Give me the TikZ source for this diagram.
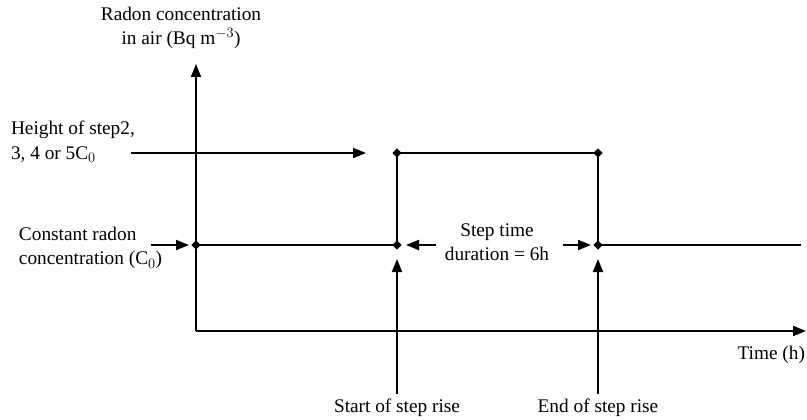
\documentclass[tikz,border=0pt]{standalone}
\usepackage{fontspec}
\setmainfont{Liberation Serif}
\usetikzlibrary{arrows.meta,shapes.geometric}
\begin{document}
\begin{tikzpicture}[x=1pt,y=-1pt,
  line width=2pt,
  tip/.style={-{Triangle[length=13pt,width=10pt]}},
  dot/.style={diamond,fill=black,inner sep=0pt,minimum size=10pt},
  lbl/.style={font=\fontsize{19.3}{24.5}\selectfont,align=center,inner sep=0pt},
  lbll/.style={lbl,align=left}]
\useasboundingbox (0,0) rectangle (807,420);

% axes
\coordinate (O) at (196,331);
\coordinate (ytip) at (196,64);
\coordinate (xtip) at (806,331);
\draw[tip] (O) -- (ytip);
\draw[tip] (O) -- (xtip);

% step profile corners
\node[dot] (a) at (196,245) {};
\node[dot] (b) at (397,245) {};
\node[dot] (c) at (397,153) {};
\node[dot] (d) at (598,153) {};
\node[dot] (e) at (598,245) {};
\coordinate (f) at (801,245);
\draw[line width=1.7pt] (a.center) -- (b.center) -- (c.center) -- (d.center) -- (e.center) -- (f);

% labels
\node[lbl] (ylab) at (181,28) {Radon concentration\\in air (Bq m$^{\mathbf{-}3}$)};
\node[lbll,anchor=west] (hlab) at (10,142) {Height of step2,\\3, 4 or 5C$_0$};
\node[lbll,anchor=west] (clab) at (18,248) {Constant radon\\concentration (C$_0$)};
\node[lbl] (slab) at (497,242) {Step time\\duration = 6h};
\node[lbl,anchor=east] (tlab) at (806,355) {Time (h)};
\node[lbl] (start) at (397,408) {Start of step rise};
\node[lbl] (endl) at (598,408) {End of step rise};

% pointers
\coordinate (h0) at (131,153);
\coordinate (h1) at (366,153);
\draw[tip] (h0) -- (h1);
\coordinate (c0) at (151,245);
\draw[tip,shorten >=1pt] (c0) -- (a);
\coordinate (s0) at (436,245);
\draw[tip,shorten >=3pt] (s0) -- (b);
\coordinate (s1) at (563,245);
\draw[tip,shorten >=1pt] (s1) -- (e);
\coordinate (u0) at (397,394);
\coordinate (u1) at (598,394);
\draw[tip] (u0) -- ([yshift=-8pt]b.south);
\draw[tip] (u1) -- ([yshift=-8pt]e.south);
\end{tikzpicture}
\end{document}
